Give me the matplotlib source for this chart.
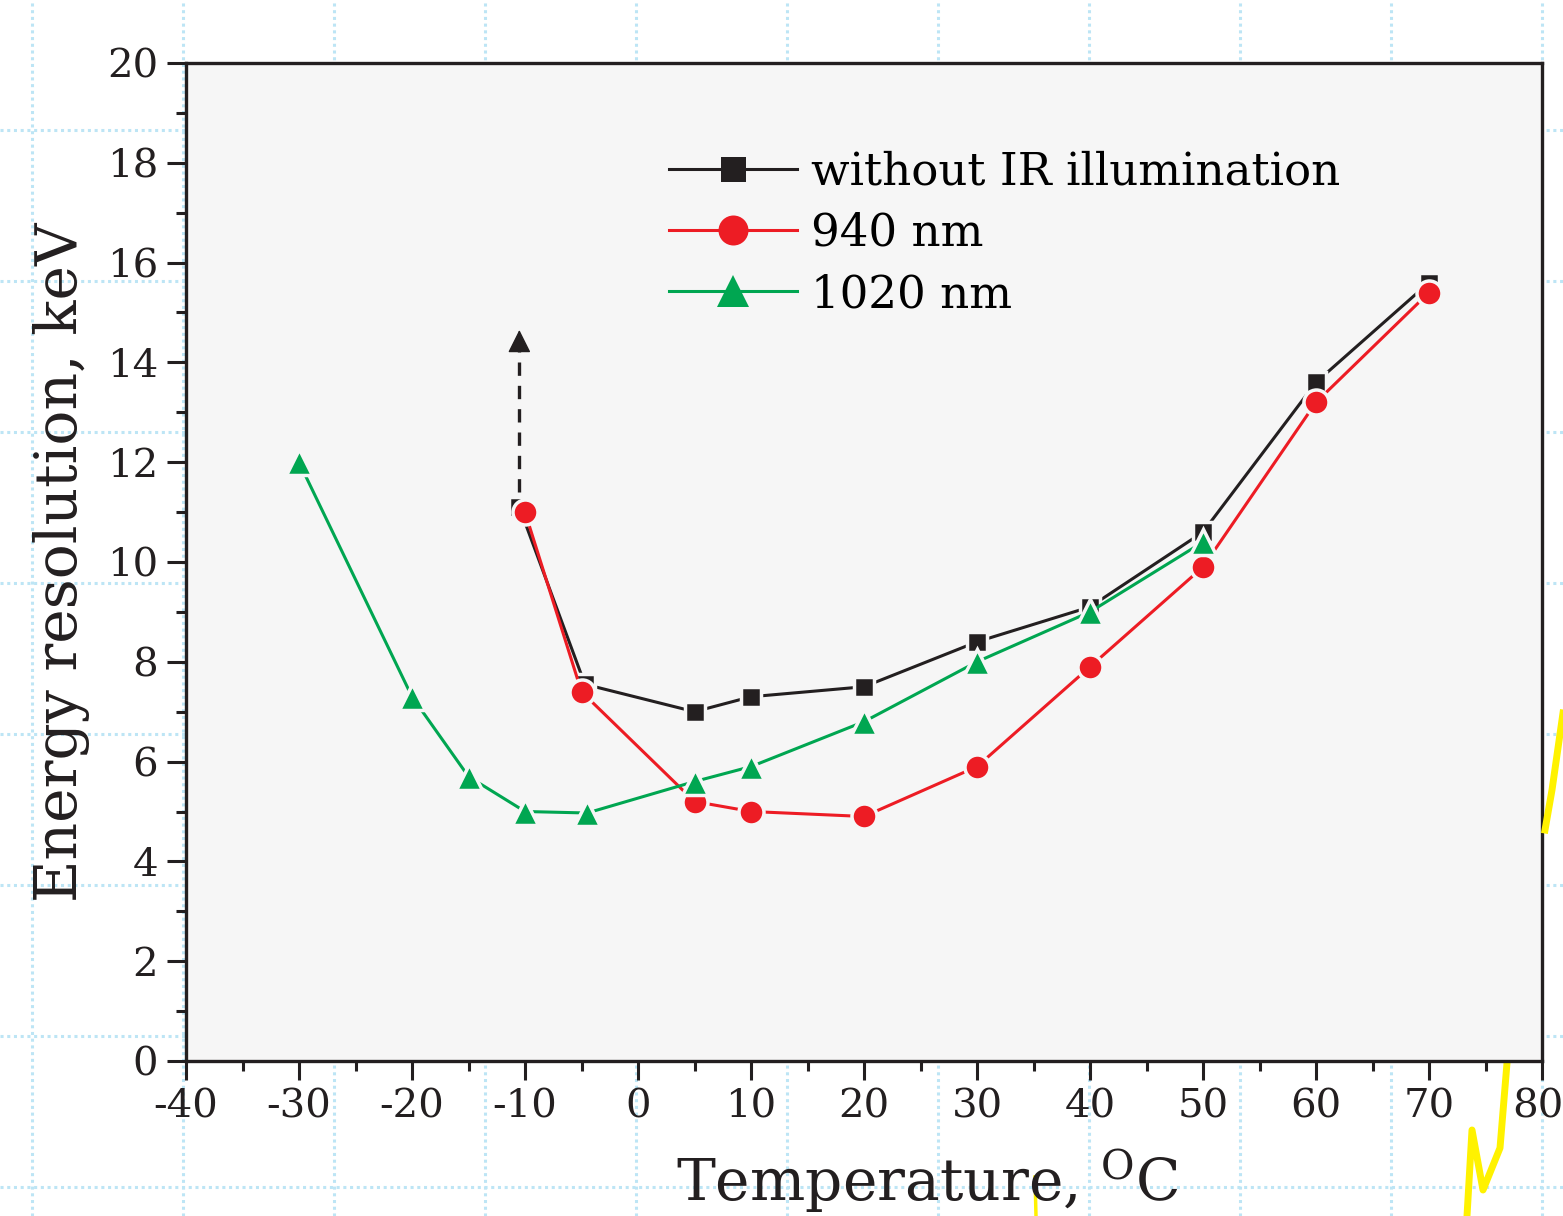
import numpy as np
import matplotlib.pyplot as plt
from matplotlib.lines import Line2D
from matplotlib.ticker import MultipleLocator
from matplotlib.transforms import ScaledTranslation

plt.rcParams['font.family'] = ['DejaVu Serif']
plt.rcParams['mathtext.fontset'] = 'dejavuserif'
plt.rcParams['axes.unicode_minus'] = False

# Data
t_dark = [-10.5, -4.7, 5, 10, 20, 30, 40, 50, 60, 70]
e_dark = [11.1, 7.55, 7.0, 7.3, 7.5, 8.4, 9.1, 10.6, 13.6, 15.6]

t_940 = [-10, -5, 5, 10, 20, 30, 40, 50, 60, 70]
e_940 = [11.0, 7.4, 5.2, 5.0, 4.9, 5.9, 7.9, 9.9, 13.2, 15.4]

t_1020 = [-30, -20, -15, -10, -4.5, 5, 10, 20, 30, 40, 50]
e_1020 = [12.0, 7.3, 5.7, 5.0, 4.97, 5.6, 5.9, 6.8, 8.0, 9.0, 10.4]

arrow_x = -10.5
arrow_from, arrow_to = 11.1, 14.65

x_ticks = [-40, -30, -20, -10, 0, 10, 20, 30, 40, 50, 60, 70, 80]
labels = ['without IR illumination', '940 nm', '1020 nm']

black = '#231f20'
red = '#ed1c24'
green = '#00a651'
bg = '#f6f6f6'

fig = plt.figure(figsize=(15.63, 12.16), dpi=100)

# dotted paper grid behind everything
W, H = 1563, 1216
for x in np.arange(32, W, 151):
    fig.add_artist(Line2D([x / W, x / W], [0, 1], color='#bde5f5', lw=2.2,
                          ls=(0, (1, 1.2)), zorder=-5))
for y in np.arange(130, H, 151):
    fig.add_artist(Line2D([0, 1], [1 - y / H, 1 - y / H], color='#bde5f5', lw=2.2,
                          ls=(0, (1, 1.2)), zorder=-5))

ax = fig.add_axes([186 / W, 1 - 1061 / H, (1542 - 186) / W, (1061 - 63) / H])
ax.set_facecolor(bg)

kw = dict(lw=2.2, markeredgecolor=bg, markeredgewidth=2.5)
ax.plot(t_dark, e_dark, color=black, marker='s', ms=15, label=labels[0], zorder=3, **kw)
ax.plot(t_940, e_940, color=red, marker='o', ms=18, label=labels[1], zorder=4, **kw)
ax.plot(t_1020, e_1020, color=green, marker='^', ms=19, label=labels[2], zorder=5, **kw)

# dashed arrow: open upper limit
ax.plot([arrow_x, arrow_x], [arrow_from + 0.3, arrow_to - 0.35], color=black,
        lw=2.4, ls=(0, (4, 3)), zorder=2)
ax.annotate('', xy=(arrow_x, arrow_to), xytext=(arrow_x, arrow_to - 0.4),
            arrowprops=dict(arrowstyle='-|>', color=black, lw=1,
                            mutation_scale=36, shrinkA=0, shrinkB=0), zorder=2)

ax.set_xlim(-40, 80)
ax.set_ylim(0, 20)
ax.set_xticks(x_ticks, [str(t) for t in x_ticks])
ax.xaxis.set_minor_locator(MultipleLocator(5))
ax.yaxis.set_major_locator(MultipleLocator(2))
ax.yaxis.set_minor_locator(MultipleLocator(1))
ax.tick_params(which='both', direction='out', width=2.2, colors=black, labelsize=29)
ax.tick_params(which='major', length=14, pad=6)
ax.tick_params(which='minor', length=7)
for s in ax.spines.values():
    s.set_linewidth(2.4)
    s.set_color(black)

# nudge the last label so it stays inside the figure
last = ax.get_xticklabels()[-1]
last.set_transform(last.get_transform() + ScaledTranslation(-4 / 100, 0, fig.dpi_scale_trans))

ax.set_xlabel(r'Temperature, $^{\mathrm{O}}$C', fontsize=42, color=black)
ax.xaxis.set_label_coords(0.547, -0.086)
ax.set_ylabel('Energy resolution, keV', fontsize=42, color=black, labelpad=12)

leg = ax.legend(loc='upper left', bbox_to_anchor=(0.326, 0.953), frameon=False,
                fontsize=32.5, handlelength=2.85, handletextpad=0.3,
                labelspacing=0.4, markerscale=1.2)
for h in leg.legend_handles:
    h.set_markeredgewidth(0)

# yellow pen strokes on the scan
fig.add_artist(Line2D(np.array([1467, 1472, 1483, 1500, 1507]) / W,
                      1 - np.array([1216, 1130, 1190, 1148, 1063]) / H,
                      color='#fff200', lw=5, zorder=-1))
fig.add_artist(Line2D(np.array([1545, 1552, 1563]) / W,
                      1 - np.array([830, 790, 713]) / H,
                      color='#fff200', lw=5, zorder=10))
fig.add_artist(Line2D(np.array([1035, 1036]) / W,
                      1 - np.array([1177, 1216]) / H,
                      color='#fff200', lw=2.5, zorder=-1))

fig.savefig('out.png', dpi=100, facecolor='white')
